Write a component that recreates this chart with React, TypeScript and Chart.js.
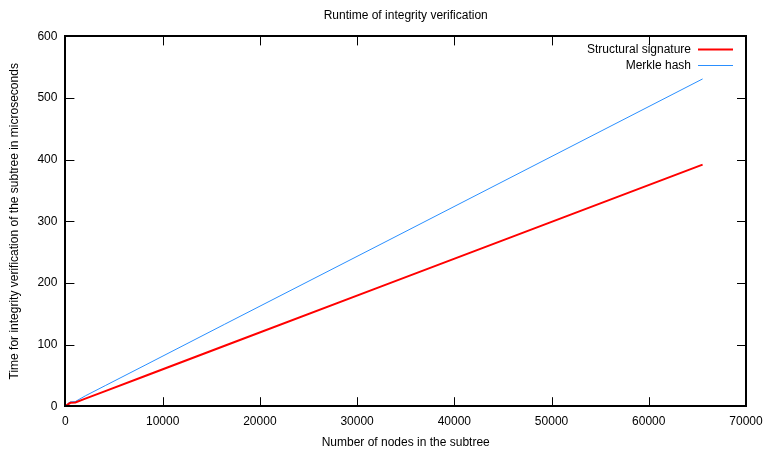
import React, { useEffect, useRef } from "react";
import { Chart, registerables } from "chart.js";

Chart.register(...registerables);

const nodes = [1, 2, 4, 8, 16, 32, 64, 128, 256, 512, 1024, 2048, 4096, 8192, 16384, 32768, 65536];
const structuralSignature = [0.05, 0.1, 0.15, 0.2, 0.3, 0.5, 0.9, 1.6, 3.0, 5.5, 6.0, 12.2, 24.5, 49, 98, 196, 392];
const merkleHash = [0.05, 0.1, 0.15, 0.25, 0.4, 0.7, 1.2, 2.2, 4.5, 7.0, 7.6, 16.8, 33.4, 66.5, 133, 265.5, 531];
const xTicks = [0, 10000, 20000, 30000, 40000, 50000, 60000, 70000];
const yTicks = [0, 100, 200, 300, 400, 500, 600];

const FONT = "'Liberation Sans', Arial, Helvetica, sans-serif";

const framePlugin = {
  id: "gnuframe",
  afterDraw(chart: any) {
    const ctx = chart.ctx;
    const { left, right, top, bottom } = chart.chartArea;
    const xs = chart.scales.x;
    const ys = chart.scales.y;
    ctx.save();
    ctx.strokeStyle = "#000";
    ctx.lineWidth = 1;
    ctx.beginPath();
    for (const v of xTicks) {
      const px = Math.round(xs.getPixelForValue(v)) + 0.5;
      ctx.moveTo(px, bottom);
      ctx.lineTo(px, bottom - 9);
      ctx.moveTo(px, top);
      ctx.lineTo(px, top + 9);
    }
    for (const v of yTicks) {
      const py = Math.round(ys.getPixelForValue(v)) + 0.5;
      ctx.moveTo(left, py);
      ctx.lineTo(left + 9, py);
      ctx.moveTo(right, py);
      ctx.lineTo(right - 9, py);
    }
    ctx.stroke();
    ctx.lineWidth = 2;
    ctx.strokeRect(Math.round(left), Math.round(top), Math.round(right - left), Math.round(bottom - top));
    ctx.font = "12px " + FONT;
    ctx.textAlign = "right";
    ctx.textBaseline = "middle";
    chart.data.datasets.forEach((ds: any, i: number) => {
      const y = top + 13 + i * 16;
      ctx.fillStyle = "#000";
      ctx.fillText(ds.label, right - 55, y);
      ctx.strokeStyle = ds.borderColor;
      ctx.lineWidth = ds.borderWidth;
      ctx.beginPath();
      ctx.moveTo(right - 48, Math.round(y) + 0.5);
      ctx.lineTo(right - 13, Math.round(y) + 0.5);
      ctx.stroke();
    });
    ctx.restore();
  },
};

export default function App() {
  const ref = useRef<HTMLCanvasElement>(null);
  useEffect(() => {
    document.body.style.margin = "0";
    const chart = new Chart(ref.current!, {
      type: "line",
      data: {
        datasets: [
          {
            label: "Structural signature",
            data: nodes.map((x, i) => ({ x, y: structuralSignature[i] })),
            borderColor: "#ff0000",
            borderWidth: 2,
            pointRadius: 0,
            fill: false,
            tension: 0,
          },
          {
            label: "Merkle hash",
            data: nodes.map((x, i) => ({ x, y: merkleHash[i] })),
            borderColor: "#2a8fff",
            borderWidth: 1,
            pointRadius: 0,
            fill: false,
            tension: 0,
          },
        ],
      },
      options: {
        animation: false,
        responsive: false,
        devicePixelRatio: 1,
        layout: { padding: { left: 7, right: 20, top: 8, bottom: 3 } },
        plugins: {
          legend: { display: false },
          tooltip: { enabled: false },
          title: {
            display: true,
            fullSize: false,
            text: "Runtime of integrity verification",
            color: "#000",
            font: { family: FONT, size: 12, weight: "normal" },
            padding: { top: 0, bottom: 14 },
          },
        },
        scales: {
          x: {
            type: "linear",
            min: 0,
            max: 70000,
            afterBuildTicks: (s: any) => {
              s.ticks = xTicks.map((v) => ({ value: v }));
            },
            afterFit: (s: any) => {
              s.paddingRight = 0;
              s.paddingLeft = 0;
            },
            grid: { display: false, drawTicks: false },
            border: { display: false },
            ticks: {
              color: "#000",
              font: { family: FONT, size: 12 },
              padding: 8,
              maxRotation: 0,
              callback: (v: any) => String(v),
            },
            title: {
              display: true,
              text: "Number of nodes in the subtree",
              color: "#000",
              font: { family: FONT, size: 12 },
              padding: { top: -1, bottom: 0 },
            },
          },
          y: {
            type: "linear",
            min: 0,
            max: 600,
            afterBuildTicks: (s: any) => {
              s.ticks = yTicks.map((v) => ({ value: v }));
            },
            grid: { display: false, drawTicks: false },
            border: { display: false },
            ticks: {
              color: "#000",
              font: { family: FONT, size: 12 },
              padding: 8,
              callback: (v: any) => String(v),
            },
            title: {
              display: true,
              text: "Time for integrity verification of the subtree in microseconds",
              color: "#000",
              font: { family: FONT, size: 12 },
              padding: { top: 0, bottom: 8 },
            },
          },
        },
      },
      plugins: [framePlugin],
    } as any);
    return () => chart.destroy();
  }, []);
  return (
    <div style={{ position: "absolute", left: 0, top: 0, width: 766, height: 453, background: "#fff" }}>
      <canvas ref={ref} width={766} height={453} style={{ width: 766, height: 453 }} />
    </div>
  );
}
